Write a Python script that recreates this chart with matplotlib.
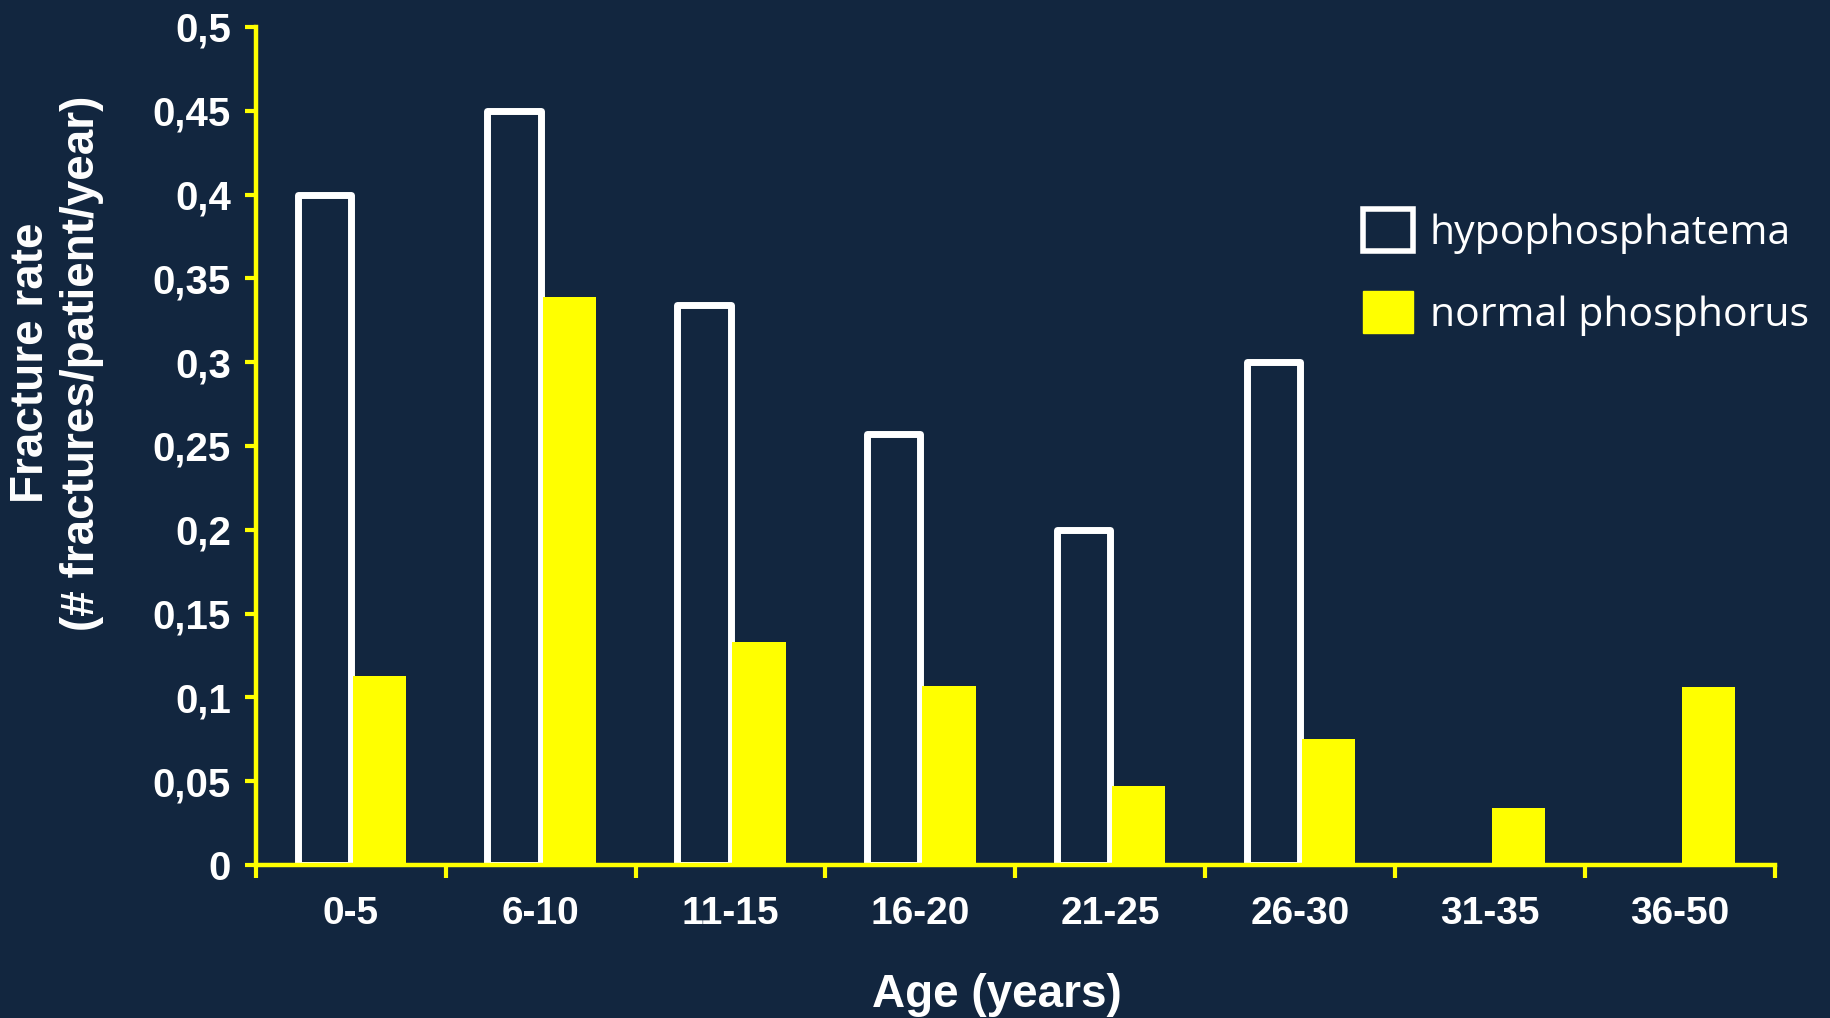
import numpy as np
import matplotlib.pyplot as plt
from matplotlib.patches import Patch

# values
age_groups = ['0-5', '6-10', '11-15', '16-20', '21-25', '26-30', '31-35', '36-50']
hypophos = [0.40, 0.45, 0.334, 0.257, 0.20, 0.30, np.nan, np.nan]
normal_phos = [0.113, 0.339, 0.133, 0.107, 0.047, 0.075, 0.034, 0.1065]
y_ticks = [0, 0.05, 0.1, 0.15, 0.2, 0.25, 0.3, 0.35, 0.4, 0.45, 0.5]
y_tick_labels = ['0', '0,05', '0,1', '0,15', '0,2', '0,25', '0,3', '0,35', '0,4', '0,45', '0,5']

bg = '#12263f'
yellow = '#ffff00'

plt.rcParams['font.family'] = ['Liberation Sans', 'DejaVu Sans']

fig = plt.figure(figsize=(18.31, 10.18), dpi=100, facecolor=bg)
ax = fig.add_axes([0.1397, 0.1502, 0.8297, 0.8234])
ax.set_facecolor(bg)

x = np.arange(len(age_groups))
w = 0.28
ax.bar(x - 0.14, hypophos, width=w, facecolor=bg, edgecolor='white', linewidth=5,
       joinstyle='round', zorder=2)
ax.bar(x + 0.15, normal_phos, width=w, color=yellow, linewidth=0, zorder=3)

ax.set_xlim(-0.5, len(age_groups) - 0.5)
ax.set_ylim(0, 0.5)

for s in ['top', 'right']:
    ax.spines[s].set_visible(False)
for s in ['left', 'bottom']:
    ax.spines[s].set_color(yellow)
    ax.spines[s].set_linewidth(3.2)
    ax.spines[s].set_zorder(4)

ax.set_yticks(y_ticks)
ax.set_yticklabels(y_tick_labels)
ax.tick_params(axis='y', colors=yellow, length=8, width=3, labelcolor='white',
               labelsize=29, pad=10)
for t in ax.get_yticklabels():
    t.set_fontweight('bold')

ax.set_xticks(np.arange(len(age_groups) + 1) - 0.5)
ax.set_xticklabels([])
ax.tick_params(axis='x', which='major', colors=yellow, length=9, width=3)
ax.set_xticks(x, minor=True)
ax.set_xticklabels(age_groups, minor=True)
ax.tick_params(axis='x', which='minor', length=0, labelcolor='white', labelsize=28, pad=22)
for t in ax.get_xticklabels(minor=True):
    t.set_fontweight('bold')

ax.set_xlabel('Age (years)', color='white', fontsize=33, fontweight='bold')
ax.xaxis.set_label_coords(0.488, -0.129)
ax.set_ylabel('Fracture rate\n(# fractures/patient/year)', color='white', fontsize=33,
              fontweight='bold', va='center', linespacing=1.2)
ax.yaxis.set_label_coords(-0.131, 0.599)

handles = [Patch(facecolor=bg, edgecolor='white', linewidth=4),
           Patch(facecolor=yellow, edgecolor=yellow)]
leg = fig.legend(handles, ['hypophosphatema', 'normal phosphorus'],
                 loc='upper left', bbox_to_anchor=(0.7446, 0.795), frameon=False,
                 prop={'family': 'Open Sans', 'size': 29.5}, labelcolor='white',
                 handlelength=1.2, handleheight=1.2, handletextpad=0.42,
                 labelspacing=0.92, borderpad=0, borderaxespad=0)

fig.savefig('out.png', dpi=100, facecolor=bg)
